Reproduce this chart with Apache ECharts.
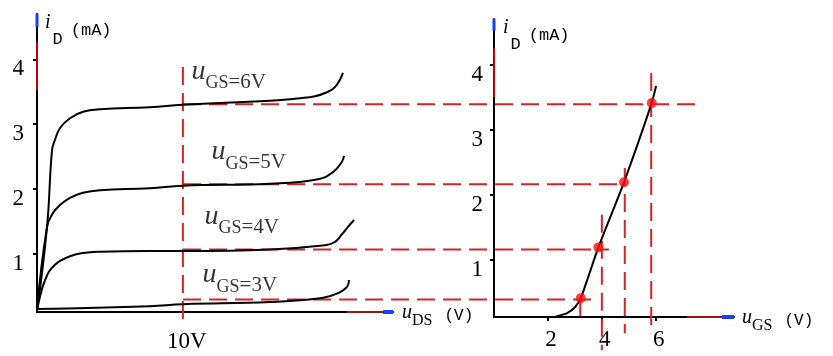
<!DOCTYPE html>
<html>
<head>
<meta charset="utf-8">
<script src="https://cdn.jsdelivr.net/npm/echarts@6/dist/echarts.min.js"></script>
<style>
html, body { margin: 0; padding: 0; background: #fff; }
#chart { width: 833px; height: 356px; }
</style>
</head>
<body>
<div id="chart"></div>
<script>
// output characteristics: iD (mA) against uDS (V), one curve per uGS
var curve6V = [[0,0.115],[0.685,1.41],[1.03,2.6],[1.23,2.755],[1.58,2.94],[2.26,3.09],[3.15,3.19],[4.32,3.23],[7.74,3.26],[10,3.3],[15.97,3.36],[18.03,3.4],[19.05,3.43],[19.74,3.48],[20.42,3.57],[20.97,3.79]];
var curve5V = [[0,0.115],[0.685,1.41],[1.1,1.63],[1.58,1.75],[2.26,1.86],[3.15,1.94],[4.32,1.98],[7.74,2.01],[10,2.05],[15.97,2.08],[19.26,2.15],[20.29,2.26],[20.9,2.42],[21.04,2.51]];
var curve4V = [[0,0.115],[0.07,0.21],[0.55,0.59],[1.23,0.83],[2.26,0.96],[3.15,1.01],[4.32,1.03],[7.74,1.04],[10,1.04],[15.97,1.065],[19.74,1.13],[20.42,1.18],[20.9,1.3],[21.3,1.41],[21.73,1.52]];
var curve3V = [[0.05,0.146],[7.74,0.19],[10,0.22],[15.97,0.254],[19.53,0.316],[20.63,0.39],[21.25,0.486],[21.38,0.594]];
var curveNames = ['6V', '5V', '4V', '3V'];
var labelAt = [[10.62,3.48],[11.99,2.24],[11.51,1.24],[11.38,0.34]];

// transfer characteristic: iD (mA) against uGS (V)
var transferCurve = [[2.25,0.12],[2.71,0.18],[3.0,0.27],[3.22,0.41],[3.87,1.19],[4.82,2.19],[5.85,3.41],[6.01,3.67]];
var transferPoints = [[3.22,0.41],[3.87,1.19],[4.82,2.19],[5.85,3.41]];

// dashed guides, right panel units: horizontal ones reach back to uDS = 10V on the left
var guideLevels = [3.39, 2.16, 1.157, 0.389];
var guideStart = -11.53;
var guideEnds = [7.53, 4.82, 4.26, 3.63];
var vGuideX = [3.2, 4.0, 4.85, 5.83];
var vGuideTop = [0.41, 1.69, 2.41, 3.87];
var vGuideBottom = [0.12, -0.39, -0.13, -0.13];

var idTicks = [1, 2, 3, 4];
var udsTicks = [10];
var ugsTicks = [2, 4, 6];

var chart = echarts.init(document.getElementById('chart'));

var serif = 'Liberation Serif';
var mono = 'Liberation Mono';
var red = '#d42424';

var nameRich = {
  u: { fontFamily: serif, fontStyle: 'italic', fontSize: 20, lineHeight: 20, padding: [0,0,6,0], verticalAlign: 'bottom', color: '#000' },
  s: { fontFamily: serif, fontSize: 16, lineHeight: 16, verticalAlign: 'bottom', color: '#000' },
  p: { fontFamily: mono, fontSize: 16, lineHeight: 16, padding: [0,0,5,12], verticalAlign: 'bottom', color: '#000' }
};
var idRich = {
  i: { fontFamily: serif, fontStyle: 'italic', fontSize: 20, lineHeight: 20, padding: [0,0,15,0], verticalAlign: 'bottom', color: '#000' },
  d: { fontFamily: mono, fontSize: 17, lineHeight: 17, padding: [0,0,0,2], verticalAlign: 'bottom', color: '#000' },
  m: { fontFamily: mono, fontSize: 17, lineHeight: 17, padding: [0,0,9,8], verticalAlign: 'bottom', color: '#000' }
};

function axisLineStyle() {
  return { show: true, onZero: false, lineStyle: { color: '#000', width: 2 } };
}

function curve(data, gi, sm) {
  return {
    type: 'line', xAxisIndex: gi, yAxisIndex: gi, data: data,
    smooth: sm, symbol: 'none', silent: true, z: 4,
    lineStyle: { color: '#000', width: 2 }
  };
}
function dashed(data, gi) {
  return {
    type: 'line', xAxisIndex: gi, yAxisIndex: gi, data: data, clip: false,
    symbol: 'none', silent: true, z: 3,
    lineStyle: { color: red, width: 2, type: [18, 8] }
  };
}
function seg(data, gi, color, w) {
  return {
    type: 'line', xAxisIndex: gi, yAxisIndex: gi, data: data, clip: false,
    symbol: 'none', silent: true, z: 6,
    lineStyle: { color: color, width: w }
  };
}

var series = [];
[curve6V, curve5V, curve4V, curve3V].forEach(function (c) { series.push(curve(c, 0, 0.45)); });
series.push(curve(transferCurve, 1, 0.2));

// horizontal guides cross both panels, so draw them with api.coord (no clamping to the axis range)
series.push({
  type: 'custom', xAxisIndex: 1, yAxisIndex: 1, clip: false, silent: true, z: 3,
  data: guideLevels.map(function (lv, i) { return [guideStart, lv, guideEnds[i]]; }),
  encode: { x: [0, 2], y: 1 },
  renderItem: function (params, api) {
    var a = api.coord([api.value(0), api.value(1)]);
    var b = api.coord([api.value(2), api.value(1)]);
    return {
      type: 'line',
      shape: { x1: a[0], y1: a[1], x2: b[0], y2: b[1] },
      style: { stroke: red, lineWidth: 2, lineDash: [18, 8] }
    };
  }
});
series.push(dashed([[10, 3.88], [10, -0.06]], 0));
vGuideX.forEach(function (x, i) {
  series.push(dashed([[x, vGuideTop[i]], [x, vGuideBottom[i]]], 1));
});

series.push({
  type: 'scatter', xAxisIndex: 1, yAxisIndex: 1, data: transferPoints,
  symbolSize: 10, itemStyle: { color: '#ff1010' }, z: 7, silent: true
});

// uGS labels on the curves
series.push({
  type: 'scatter', xAxisIndex: 0, yAxisIndex: 0, clip: false, silent: true, z: 8,
  symbolSize: 1, itemStyle: { color: 'transparent' },
  data: labelAt.map(function (p, i) { return { value: p, name: curveNames[i] }; }),
  label: {
    show: true, position: [0, 0], align: 'left', verticalAlign: 'bottom',
    formatter: function (p) { return '{u|u}{s|GS}{n|=' + p.name + '}'; },
    rich: {
      u: { fontFamily: serif, fontStyle: 'italic', fontSize: 28, lineHeight: 28, padding: [0,0,7,0], verticalAlign: 'bottom', color: '#000' },
      s: { fontFamily: serif, fontSize: 18, lineHeight: 18, verticalAlign: 'bottom', color: '#000' },
      n: { fontFamily: serif, fontSize: 21, lineHeight: 21, verticalAlign: 'bottom', color: '#000' }
    }
  }
});

// coloured bits on the axis ends
series.push(seg([[0, 3.53], [0, 4.27]], 0, '#c00000', 2));
series.push(seg([[0, 4.5], [0, 4.7]], 0, '#1a3cff', 3));
series.push(seg([[21.25, 0.1], [23.72, 0.1]], 0, '#a01010', 2));
series.push(seg([[23.72, 0.1], [24.4, 0.1]], 0, '#1a3cff', 4));
series.push(seg([[0, 3.5], [0, 4.25]], 1, '#c00000', 2));
series.push(seg([[0, 4.52], [0, 4.7]], 1, '#1a3cff', 3));
series.push(seg([[7.16, 0.12], [8.45, 0.12]], 1, '#a01010', 2));
series.push(seg([[8.45, 0.12], [8.9, 0.12]], 1, '#1a3cff', 4));

var tickFont = { fontFamily: serif, fontSize: 23, color: '#000' };
var yLabel = { verticalAlign: 'top', lineHeight: 20 };

chart.setOption({
  animation: false,
  backgroundColor: '#fff',
  grid: [
    { left: 37, top: 14, width: 356, height: 298 },
    { left: 494, top: 19, width: 240, height: 298 }
  ],
  xAxis: [
    {
      gridIndex: 0, type: 'value', min: 0, max: 24.4,
      axisLine: axisLineStyle(), splitLine: { show: false },
      axisTick: { show: false },
      axisLabel: Object.assign({ customValues: udsTicks, margin: 18, padding: [0,0,0,8], formatter: '{value}V' }, tickFont),
      name: '{u|u}{s|DS}{p|(V)}', nameLocation: 'end', nameGap: 9,
      nameTextStyle: { align: 'left', verticalAlign: 'middle', padding: [13,0,0,0], rich: nameRich }
    },
    {
      gridIndex: 1, type: 'value', min: 0, max: 8.9,
      axisLine: axisLineStyle(), splitLine: { show: false },
      axisTick: { show: true, customValues: ugsTicks, length: 4, lineStyle: { color: '#000', width: 2 } },
      axisLabel: Object.assign({ customValues: ugsTicks, margin: 11, padding: [0,0,0,6] }, tickFont),
      name: '{u|u}{s|GS}{p|(V)}', nameLocation: 'end', nameGap: 8,
      nameTextStyle: { align: 'left', verticalAlign: 'middle', padding: [13,0,0,0], rich: nameRich }
    }
  ],
  yAxis: [
    {
      gridIndex: 0, type: 'value', min: 0.1, max: 4.7,
      axisLine: axisLineStyle(), splitLine: { show: false },
      axisTick: { show: true, customValues: idTicks, length: 4, lineStyle: { color: '#000', width: 2 } },
      axisLabel: Object.assign({ customValues: idTicks, margin: 13 }, yLabel, tickFont),
      name: '{i|i}{d|D}{m|(mA)}', nameLocation: 'end', nameGap: -14,
      nameTextStyle: { align: 'left', verticalAlign: 'top', padding: [0,0,0,8], rich: idRich }
    },
    {
      gridIndex: 1, type: 'value', min: 0.12, max: 4.7,
      axisLine: axisLineStyle(), splitLine: { show: false },
      axisTick: { show: true, customValues: idTicks, length: 4, lineStyle: { color: '#000', width: 2 } },
      axisLabel: Object.assign({ customValues: idTicks, margin: 11 }, yLabel, tickFont),
      name: '{i|i}{d|D}{m|(mA)}', nameLocation: 'end', nameGap: -14,
      nameTextStyle: { align: 'left', verticalAlign: 'top', padding: [0,0,0,9], rich: idRich }
    }
  ],
  series: series
});
</script>
</body>
</html>
